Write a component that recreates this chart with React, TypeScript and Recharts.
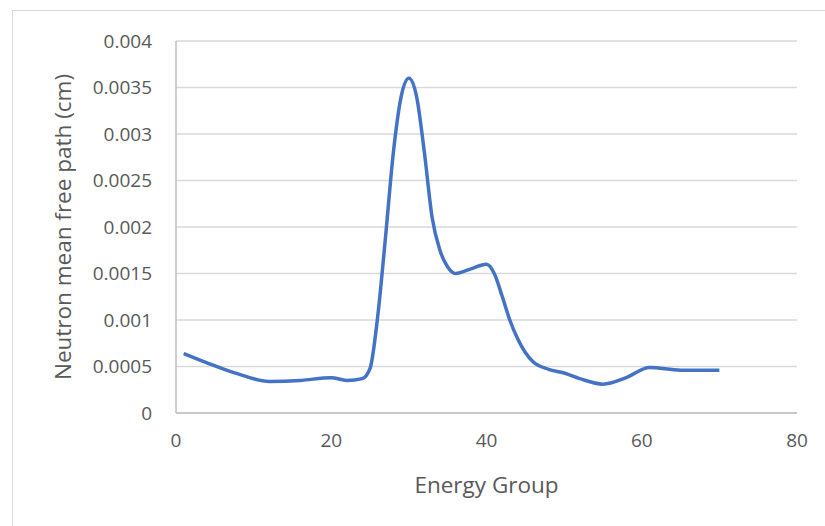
import { LineChart, Line, XAxis, YAxis, CartesianGrid, Label } from "recharts";

const groups = [
  1, 4, 8, 12, 16, 20, 22, 24, 25, 26, 27, 28, 29, 30, 31, 32, 33, 34, 35, 36,
  38, 40, 41, 42, 43, 44, 45, 46, 48, 50, 52, 55, 58, 61, 65, 70,
];
const meanFreePath = [
  0.00064, 0.00054, 0.00042, 0.00034, 0.00035, 0.00038, 0.00035, 0.00037,
  0.00048, 0.00105, 0.0019, 0.0028, 0.0034, 0.0036, 0.0034, 0.0028, 0.0021,
  0.00175, 0.00157, 0.0015, 0.00155, 0.0016, 0.0015, 0.00126, 0.001, 0.0008,
  0.00065, 0.00055, 0.00047, 0.00043, 0.00037, 0.00031, 0.00038, 0.00049,
  0.00046, 0.00046,
];
const xTicks = [0, 20, 40, 60, 80];
const yTicks = [
  0, 0.0005, 0.001, 0.0015, 0.002, 0.0025, 0.003, 0.0035, 0.004,
];

const data = groups.map((g, i) => ({ group: g, mfp: meanFreePath[i] }));

const font = "'Open Sans', 'Liberation Sans', sans-serif";
const tickStyle = { fill: "#595959", fontSize: 19, fontFamily: font };
const titleStyle = { fill: "#595959", fontSize: 22.5, fontFamily: font };

export default function App() {
  return (
    <div
      style={{
        position: "absolute",
        left: 12,
        top: 10,
        borderLeft: "1px solid #d9d9d9",
        borderTop: "1px solid #d9d9d9",
        background: "#fff",
      }}
    >
      <LineChart
        width={813}
        height={516}
        data={data}
        margin={{ top: 30, right: 29, left: 0, bottom: 0 }}
      >
        <CartesianGrid vertical={false} stroke="#d9d9d9" strokeWidth={1.5} />
        <XAxis
          dataKey="group"
          type="number"
          domain={[0, 80]}
          ticks={xTicks}
          height={114}
          tickSize={0}
          tickMargin={21}
          tick={tickStyle}
          stroke="#bfbfbf"
          strokeWidth={1.5}
        >
          <Label
            value="Energy Group"
            position="insideBottom"
            offset={34}
            style={titleStyle}
          />
        </XAxis>
        <YAxis
          type="number"
          domain={[0, 0.004]}
          ticks={yTicks}
          width={163}
          tickSize={0}
          tickMargin={24}
          tick={tickStyle}
          stroke="#bfbfbf"
          strokeWidth={1.5}
        >
          <Label
            value="Neutron mean free path (cm)"
            angle={-90}
            position="insideLeft"
            offset={50}
            style={{ ...titleStyle, textAnchor: "middle" }}
          />
        </YAxis>
        <Line
          type="monotone"
          dataKey="mfp"
          stroke="#4472c4"
          strokeWidth={3.5}
          dot={false}
          isAnimationActive={false}
        />
      </LineChart>
    </div>
  );
}
